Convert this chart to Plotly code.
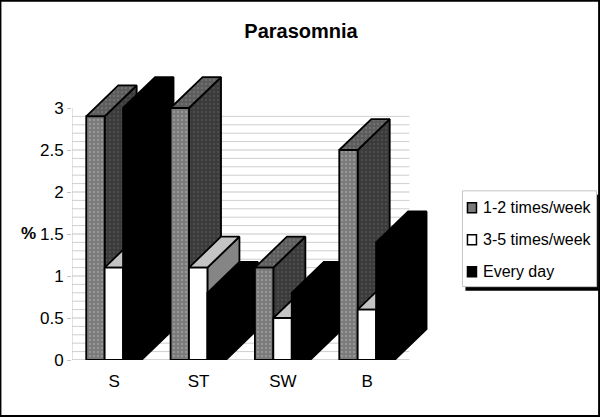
import plotly.graph_objects as go

categories = ["S", "ST", "SW", "B"]
series_names = ["1-2 times/week", "3-5 times/week", "Every day"]
once_twice = [2.9, 3.0, 1.1, 2.5]
three_five = [1.1, 1.1, 0.5, 0.6]
every_day = [3.0, 0.8, 0.8, 1.4]
y_ticks = [0, 0.5, 1, 1.5, 2, 2.5, 3]
y_labels = ["0", "0.5", "1", "1.5", "2", "2.5", "3"]
grid_levels = [i / 10 for i in range(0, 30)]

W, H = 600, 418
L, B = 72.0, 360.5
UX, UY = 84.25, 84.17        # pixels per category, pixels per y unit
XMAX, YMAX = 4.6, 3.5        # plot area extends past the axes so the depth faces are not clipped
R = L + XMAX * UX
T = B - YMAX * UY
FONT = "Liberation Sans"
DX = 32 / UX      # depth offset, x units
DY = 31 / UY      # depth offset, y units
BAR = 18.4 / UX   # bar width, x units
START = 14.2 / UX
OUT = dict(color="#000000", width=1.8)
AXIS = "#c4c4c4"

styles = [
    dict(front=("#7a7a7a", "#969696"), top=("#5c5c5c", "#707070"), side=("#3a3a3a", "#4c4c4c")),
    dict(front=("#ffffff", None), top=("#c4c4c4", None), side=("#858585", None)),
    dict(front=("#000000", None), top=("#000000", None), side=("#000000", None)),
]

fig = go.Figure()


def poly(xs, ys, fill, name):
    color, dots = fill
    kw = dict(
        x=xs + xs[:1], y=ys + ys[:1], mode="lines", fill="toself", fillcolor=color,
        line=OUT, cliponaxis=False, showlegend=False, hoverinfo="skip", name=name,
    )
    if dots:
        kw["fillpattern"] = dict(shape=".", bgcolor=color, fgcolor=dots, size=4, solidity=0.3, fillmode="replace")
    fig.add_trace(go.Scatter(**kw))


for g in grid_levels:
    major = abs(g * 2 - round(g * 2)) < 1e-9
    fig.add_trace(go.Scatter(
        x=[0, 4], y=[g, g], mode="lines", showlegend=False, hoverinfo="skip",
        line=dict(color="#e2e2e2" if major else "#cfcfcf", width=2 if major else 1),
    ))
fig.add_trace(go.Scatter(x=[0, 0], y=[0, 3], mode="lines", showlegend=False, hoverinfo="skip",
                         cliponaxis=False, line=dict(color=AXIS, width=1)))
fig.add_trace(go.Scatter(x=[0, 4], y=[0, 0], mode="lines", showlegend=False, hoverinfo="skip",
                         cliponaxis=False, line=dict(color=AXIS, width=1)))

all_values = [once_twice, three_five, every_day]
for c in range(len(categories)):
    for s, vals in enumerate(all_values):
        v = vals[c]
        x0 = c + START + s * BAR
        x1 = x0 + BAR
        st = styles[s]
        poly([x1, x1 + DX, x1 + DX, x1], [0, DY, v + DY, v], st["side"], series_names[s])
        poly([x0, x1, x1 + DX, x0 + DX], [v, v, v + DY, v + DY], st["top"], series_names[s])
        poly([x0, x1, x1, x0], [0, 0, v, v], st["front"], series_names[s])


# frame and legend geometry in pixels
def px(x):
    return (x - L) / (R - L)


def py(y):
    return (B - y) / (B - T)


shapes = [
    dict(type="rect", xref="paper", yref="paper", x0=px(0.5), x1=px(598.5), y0=py(0.5), y1=py(416.5),
         line=dict(color="#000000", width=2), fillcolor="rgba(0,0,0,0)", layer="above"),
    dict(type="rect", xref="paper", yref="paper", x0=px(465), x1=px(598), y0=py(195), y1=py(291),
         line=dict(width=0), fillcolor="#000000", layer="above"),
    dict(type="rect", xref="paper", yref="paper", x0=px(462), x1=px(596), y0=py(191), y1=py(287),
         line=dict(color="#c4c4c4", width=1), fillcolor="#ffffff", layer="above"),
]
annotations = [
    dict(text="<b>%</b>", xref="paper", yref="paper", x=px(29), y=py(234), xanchor="center", yanchor="middle",
         showarrow=False, font=dict(family=FONT, size=17, color="#000000")),
]
for i, name in enumerate(series_names):
    yc = 208 + i * 32
    fc = [styles[0]["front"][0], "#ffffff", "#000000"][i]
    shapes.append(dict(type="rect", xref="paper", yref="paper", x0=px(467), x1=px(476), y0=py(yc - 5), y1=py(yc + 5),
                       line=dict(color="#000000", width=1.5), fillcolor=fc, layer="above"))
    annotations.append(dict(text=name, xref="paper", yref="paper", x=px(481), y=py(yc), xanchor="left", yanchor="middle",
                            showarrow=False, font=dict(family=FONT, size=16, color="#000000")))

fig.update_layout(
    width=W, height=H, autosize=False, showlegend=False,
    paper_bgcolor="#ffffff", plot_bgcolor="#ffffff",
    margin=dict(l=L, r=W - R, t=T, b=H - B, pad=0),
    title=dict(text="<b>Parasomnia</b>", x=301 / W, xanchor="center", y=1 - 31 / H, yanchor="middle",
               font=dict(family=FONT, size=20, color="#000000")),
    font=dict(family=FONT, size=17, color="#000000"),
    xaxis=dict(range=[0, XMAX], tickmode="array", tickvals=[0.5, 1.5, 2.5, 3.5], ticktext=categories,
               showgrid=False, zeroline=False, showline=False,
               ticks="", ticklabelstandoff=9, fixedrange=True),
    yaxis=dict(range=[0, YMAX], tickmode="array", tickvals=y_ticks, ticktext=y_labels,
               showgrid=False, zeroline=False, showline=False,
               ticks="outside", ticklen=4, tickcolor=AXIS, fixedrange=True),
    shapes=shapes, annotations=annotations,
)

fig.write_html("out.html", config=dict(displayModeBar=False),
               post_script="document.body.style.margin='0';")
